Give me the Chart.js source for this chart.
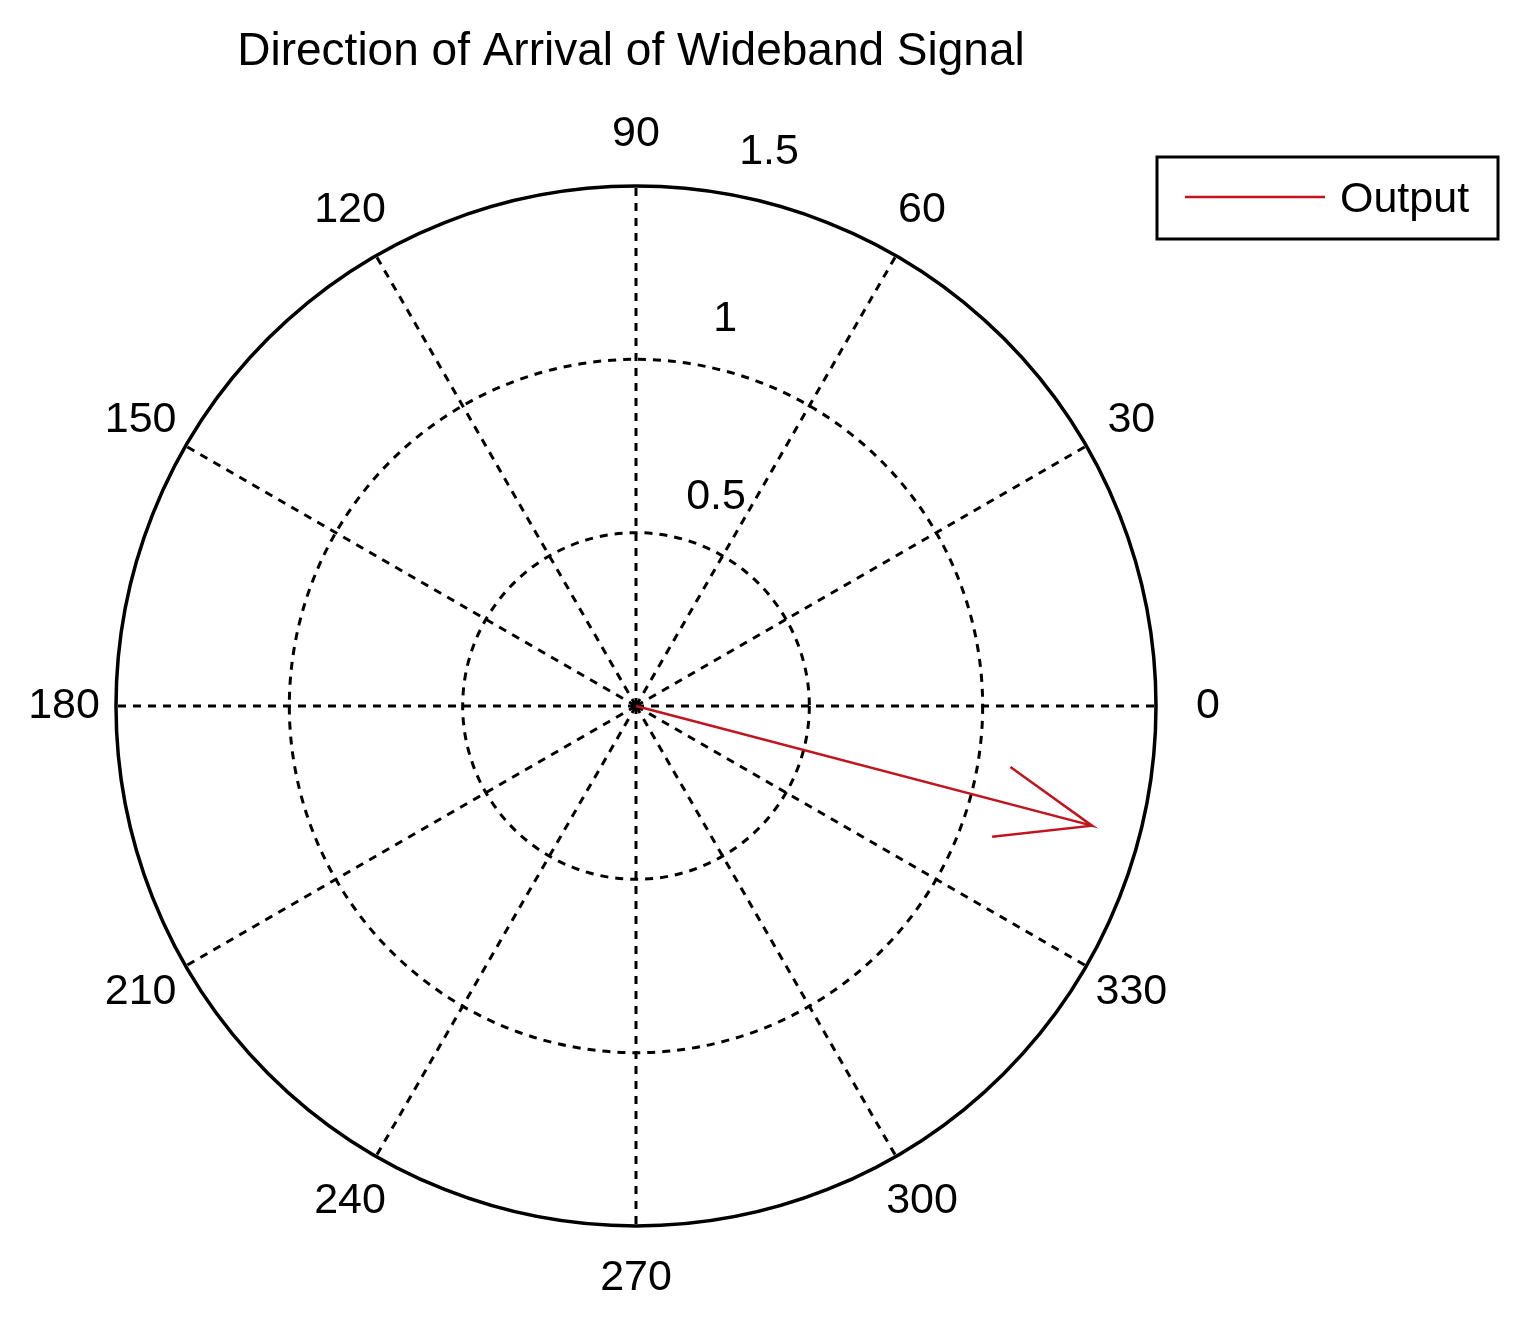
<!DOCTYPE html>
<html><head><meta charset="utf-8">
<script src="https://cdn.jsdelivr.net/npm/chart.js@4"></script>
<style>html,body{margin:0;padding:0;background:#fff}#wrap{width:1520px;height:1328px}</style>
</head><body><div id="wrap"><canvas id="c"></canvas></div>
<script>
const titleText = 'Direction of Arrival of Wideband Signal';
const seriesName = 'Output';
const arrowMagnitude = [1.36];
const arrowAngleDeg = [345.3];
const angleTicks = [0,30,60,90,120,150,180,210,240,270,300,330];
const radiusTicks = [0.5,1,1.5];
const rMax = 1.5;

const mag = arrowMagnitude[0], th = arrowAngleDeg[0]*Math.PI/180;
const tip = {x: mag*Math.cos(th), y: mag*Math.sin(th)};
const headLen = 0.29, headAng = 21*Math.PI/180;
const h1 = {x: tip.x - headLen*Math.cos(th - headAng), y: tip.y - headLen*Math.sin(th - headAng)};
const h2 = {x: tip.x - headLen*Math.cos(th + headAng), y: tip.y - headLen*Math.sin(th + headAng)};
const arrowPts = [{x:0,y:0}, tip, h1, tip, h2];

const FONT = '"Liberation Sans", Arial, sans-serif';
const polarGrid = {
  id:'polarGrid',
  beforeDatasetsDraw(chart){
    const ctx=chart.ctx, xs=chart.scales.x, ys=chart.scales.y;
    const cx=xs.getPixelForValue(0), cy=ys.getPixelForValue(0);
    const R=xs.getPixelForValue(rMax)-cx;
    ctx.save();
    ctx.strokeStyle='#000'; ctx.lineWidth=3; ctx.setLineDash([8,7]);
    angleTicks.forEach(a=>{const t=a*Math.PI/180;ctx.beginPath();ctx.moveTo(cx,cy);ctx.lineTo(cx+R*Math.cos(t),cy-R*Math.sin(t));ctx.stroke();});
    radiusTicks.forEach(r=>{if(r<rMax){ctx.beginPath();ctx.arc(cx,cy,xs.getPixelForValue(r)-cx,0,2*Math.PI);ctx.stroke();}});
    ctx.setLineDash([]); ctx.lineWidth=3.5;
    ctx.beginPath();ctx.arc(cx,cy,R,0,2*Math.PI);ctx.stroke();
    ctx.fillStyle='#000'; ctx.font='43px '+FONT; ctx.textAlign='center'; ctx.textBaseline='middle';
    angleTicks.forEach(a=>{const t=a*Math.PI/180;ctx.fillText(String(a),cx+R*1.1*Math.cos(t),cy-R*1.1*Math.sin(t));});
    const labAng={0.5:69,1:77,1.5:76.5};
    radiusTicks.forEach(r=>{const rp=xs.getPixelForValue(r)-cx+50;const t=labAng[r]*Math.PI/180;ctx.fillText(String(r),cx+rp*Math.cos(t),cy-rp*Math.sin(t));});
    ctx.font='46px '+FONT;
    ctx.fillText(titleText,631,52);
    ctx.lineWidth=3; ctx.strokeRect(1157,157,341,82);
    ctx.strokeStyle='#c0141e'; ctx.lineWidth=2.5;
    ctx.beginPath();ctx.moveTo(1185,197);ctx.lineTo(1325,197);ctx.stroke();
    ctx.font='43px '+FONT; ctx.textAlign='left'; ctx.fillText(seriesName,1340,200);
    ctx.restore();
  }
};
new Chart(document.getElementById('c'),{
  type:'scatter',
  data:{datasets:[{label:seriesName,data:arrowPts,showLine:true,borderColor:'#c0141e',borderWidth:2.5,pointRadius:0,tension:0}]},
  options:{responsive:true,maintainAspectRatio:false,animation:false,
    layout:{padding:{left:116,right:364,top:186,bottom:102}},
    scales:{x:{type:'linear',min:-rMax,max:rMax,display:false},y:{type:'linear',min:-rMax,max:rMax,display:false}},
    plugins:{legend:{display:false},tooltip:{enabled:false},title:{display:false}}},
  plugins:[polarGrid]
});
</script></body></html>
